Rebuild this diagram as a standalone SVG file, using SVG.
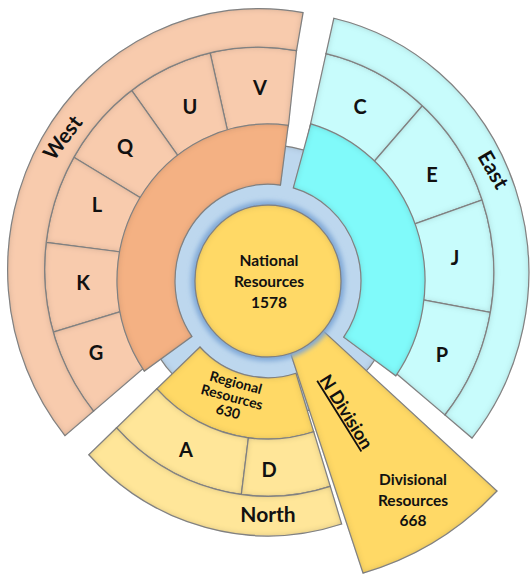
<svg xmlns="http://www.w3.org/2000/svg" width="530" height="574" viewBox="0 0 530 574">
<defs>
<filter id="inner" x="-10%" y="-10%" width="120%" height="120%">
<feComponentTransfer in="SourceAlpha" result="inv"><feFuncA type="table" tableValues="1 0"/></feComponentTransfer>
<feGaussianBlur in="inv" stdDeviation="3" result="b"/>
<feFlood flood-color="#3a3a3a" flood-opacity="0.45"/>
<feComposite in2="b" operator="in" result="s"/>
<feComposite in="s" in2="SourceAlpha" operator="in" result="s2"/>
<feMerge><feMergeNode in="SourceGraphic"/><feMergeNode in="s2"/></feMerge>
</filter>
<filter id="glow" x="-20%" y="-20%" width="140%" height="140%">
<feGaussianBlur stdDeviation="2.5"/>
</filter>
</defs>
<style>
.seg{stroke:#8c8c8c;stroke-width:1.2;filter:url(#inner)}
.wl{fill:#f8cbad}.wd{fill:#f4b183}
.el{fill:#c8fcfc}.ed{fill:#80fafa}
.nl{fill:#ffe699}.nd{fill:#ffd966}
.t{font-family:Lato,"Liberation Sans",sans-serif;font-weight:bold;fill:#111;text-anchor:middle}
.lt{font-size:20px}
.bl{font-size:21px}
.ct{font-size:15.5px}
</style>
<g id="hub-back" transform="translate(268,281) scale(1,1.04)">
<circle r="131" fill="#bdd7ee" stroke="#9aa6b2" stroke-width="1" class="seg"/>
</g>
<g id="west">
<g transform="translate(258.6,269.6) scale(1,1.04)">
<path class="seg wl" d="M 29.9,-139 L 37.90,-210.62 A 214 214 0 0 0 -48.51,-208.44 L -28.34,-121.75 L 22.14,-123.03 Z"/>
<path class="seg wl" d="M -28.34,-121.75 L -48.51,-208.44 A 214 214 0 0 0 -126.99,-172.25 L -74.18,-100.61 A 125 125 0 0 1 -28.34,-121.75 Z"/>
<path class="seg wl" d="M -74.18,-100.61 L -126.99,-172.25 A 214 214 0 0 0 -184.77,-107.96 L -107.93,-63.06 A 125 125 0 0 1 -74.18,-100.61 Z"/>
<path class="seg wl" d="M -107.93,-63.06 L -184.77,-107.96 A 214 214 0 0 0 -212.40,-26.09 L -124.06,-15.24 A 125 125 0 0 1 -107.93,-63.06 Z"/>
<path class="seg wl" d="M -124.06,-15.24 L -212.40,-26.09 A 214 214 0 0 0 -205.40,60.07 L -119.98,35.09 A 125 125 0 0 1 -124.06,-15.24 Z"/>
<path class="seg wl" d="M -119.98,35.09 L -205.40,60.07 A 214 214 0 0 0 -165.12,136.13 L -96.45,79.51 A 125 125 0 0 1 -119.98,35.09 Z"/>
<path class="seg wl" d="M 37.90,-210.62 L 44.45,-247.03 A 251 251 0 0 0 -193.67,159.66 L -165.12,136.13 A 214 214 0 0 1 37.90,-210.62 Z"/>
</g>
<g transform="translate(268,281) scale(1,1.04)">
<path class="seg wd" d="M 12.46,-92.16 L 20.23,-149.64 A 151 151 0 0 0 -123.70,86.61 L -76.19,53.34 A 93 93 0 0 1 12.46,-92.16 Z"/>
</g>
</g>
<g id="east">
<g transform="translate(277.8,272.7) scale(1,1.04)">
<path class="seg el" d="M 29.03,-126.72 L 48.23,-210.56 A 216 216 0 0 1 144.53,-160.51 L 86.98,-96.60 A 130 130 0 0 0 29.03,-126.72 Z"/>
<path class="seg el" d="M 86.98,-96.60 L 144.53,-160.51 A 216 216 0 0 1 204.36,-69.96 L 122.99,-42.11 A 130 130 0 0 0 86.98,-96.60 Z"/>
<path class="seg el" d="M 122.99,-42.11 L 204.36,-69.96 A 216 216 0 0 1 212.59,38.25 L 127.95,23.02 A 130 130 0 0 0 122.99,-42.11 Z"/>
<path class="seg el" d="M 127.95,23.02 L 212.59,38.25 A 216 216 0 0 1 167.14,136.81 L 100.59,82.34 A 130 130 0 0 0 127.95,23.02 Z"/>
<path class="seg el" d="M 48.23,-210.56 L 56.05,-244.67 A 251 251 0 0 1 194.22,158.98 L 167.14,136.81 A 216 216 0 0 0 48.23,-210.56 Z"/>
</g>
<g transform="translate(268,281) scale(1,1.04)">
<path class="seg ed" d="M 25.32,-89.48 L 42.75,-151.07 A 157 157 0 0 1 127.81,91.17 L 75.71,54.01 A 93 93 0 0 0 25.32,-89.48 Z"/>
</g>
</g>
<g id="north" transform="translate(268,281) scale(1,1.04)">
<path class="seg nd" d="M -68.02,63.43 L -111.17,103.66 A 152 152 0 0 0 45.71,144.96 L 27.97,88.69 A 93 93 0 0 1 -68.02,63.43 Z"/>
<path class="seg nl" d="M -111.17,103.66 L -151.40,141.17 A 207 207 0 0 0 -26.66,205.28 L -19.58,150.74 A 152 152 0 0 1 -111.17,103.66 Z"/>
<path class="seg nl" d="M -19.58,150.74 L -26.66,205.28 A 207 207 0 0 0 62.24,197.42 L 45.71,144.96 A 152 152 0 0 1 -19.58,150.74 Z"/>
<path class="seg nl" d="M -151.40,141.17 L -179.19,167.09 A 245 245 0 0 0 73.67,233.66 L 62.24,197.42 A 207 207 0 0 1 -151.40,141.17 Z"/>
</g>
<g id="division" transform="translate(268,281) scale(1,1.04)">
<path class="seg nd" d="M 22.56,69.43 L 95,280.8 A 300 300 0 0 0 229,201.9 L 55.09,47.90 A 73 73 0 0 1 22.56,69.43 Z"/>
</g>
<g id="national" transform="translate(268,281) scale(1,1.04)">
<circle r="77" fill="#7fa7d6" filter="url(#glow)"/>
<circle r="73" fill="#ffd966" class="seg" stroke="#7a95b8" stroke-width="0.8"/>
</g>
<g id="labels">
<text class="t ct" x="269" y="266">National</text>
<text class="t ct" x="269" y="287">Resources</text>
<text class="t ct" x="269" y="308">1578</text>
<g transform="rotate(15 232 397)">
<text class="t" font-size="14" x="232" y="387">Regional</text>
<text class="t" font-size="14" x="232" y="402">Resources</text>
<text class="t" font-size="14" x="232" y="417">630</text>
</g>
<text class="t ct" x="413" y="485">Divisional</text>
<text class="t ct" x="413" y="506">Resources</text>
<text class="t ct" x="413" y="526">668</text>
<text class="t bl" transform="translate(63,138) rotate(-53)" y="7">West</text>
<text class="t bl" transform="translate(493,170) rotate(60)" y="7">East</text>
<text class="t bl" x="268" y="522">North</text>
<text class="t" font-size="18" text-decoration="underline" transform="translate(346,412) rotate(58)" y="6">N Division</text>
<text class="t lt" x="260" y="95">V</text>
<text class="t lt" x="190" y="114">U</text>
<text class="t lt" x="125" y="154">Q</text>
<text class="t lt" x="97" y="212">L</text>
<text class="t lt" x="83" y="290">K</text>
<text class="t lt" x="96" y="360">G</text>
<text class="t lt" x="360" y="114">C</text>
<text class="t lt" x="432" y="182">E</text>
<text class="t lt" x="455" y="265">J</text>
<text class="t lt" x="442" y="362">P</text>
<text class="t lt" x="186" y="457">A</text>
<text class="t lt" x="269" y="477">D</text>
</g>
</svg>
